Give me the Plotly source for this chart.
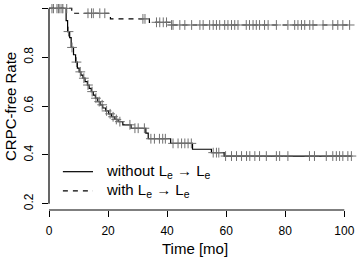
import numpy as np
import plotly.graph_objects as go

# ---- data ----
# group without Le -> Le : KM step times / survival after each step
without_t = [0, 5.8, 6.3, 7.0, 7.5, 8.3, 9.0, 9.6, 10.2, 10.8, 11.5, 12.2, 13.0, 13.6,
             14.3, 15.0, 15.7, 16.5, 17.3, 18.2, 19.2, 20.2, 21.2, 22.3, 23.4, 25.0,
             27.8, 32.8, 33.6, 41.2, 48.6, 55.0, 59.3]
without_s = [1.0, 0.95, 0.905, 0.88, 0.84, 0.81, 0.78, 0.755, 0.74, 0.727, 0.714, 0.70,
             0.686, 0.672, 0.659, 0.645, 0.632, 0.618, 0.605, 0.592, 0.58, 0.568, 0.556,
             0.545, 0.536, 0.523, 0.509, 0.489, 0.466, 0.447, 0.423, 0.409, 0.395]
without_end = 102.4
without_cens = [1.5, 3.2, 4.4, 6.6, 7.8, 9.3, 10.6, 11.8, 13.2, 14.6, 15.9, 17.0, 18.0,
                19.5, 20.7, 21.7, 22.8, 24.0, 27.4, 29.1, 30.2, 32.3, 34.5, 35.7, 37.4,
                38.5, 39.4, 42.0, 43.7, 44.9, 46.0, 47.1, 48.2, 55.6, 56.7, 57.5, 59.8,
                61.8, 63.5, 65.2, 66.9, 68.0, 69.7, 71.3, 73.6, 77.0, 78.1, 80.9, 88.2,
                89.9, 93.9, 96.1, 97.3, 98.4, 99.5, 101.2, 102.4]

# group with Le -> Le
with_t = [0, 7.7, 20.8, 34.0, 41.0]
with_s = [1.0, 0.98, 0.957, 0.943, 0.932]
with_end = 101.8
with_cens = [1.0, 2.7, 3.7, 4.7, 6.0, 13.2, 14.4, 15.0, 17.2, 18.9, 31.8, 32.5, 36.4,
             37.5, 38.7, 39.8, 41.5, 42.0, 44.3, 46.0, 48.3, 51.1, 52.2, 54.4, 55.6,
             56.7, 57.8, 59.5, 60.6, 61.8, 62.9, 64.0, 66.8, 67.9, 69.1, 70.2, 71.3,
             73.0, 74.2, 77.0, 80.9, 83.2, 84.3, 85.5, 86.6, 88.3, 89.4, 92.8, 96.1,
             97.8, 99.5, 101.8]

x_ticks = [0, 20, 40, 60, 80, 100]
y_ticks = [0.2, 0.4, 0.6, 0.8, 1.0]
y_tick_text = ["0.2", "0.4", "0.6", "0.8", "1.0"]
labels = ["without L<sub>e</sub> \u2192 L<sub>e</sub>", "with L<sub>e</sub> \u2192 L<sub>e</sub>"]

FONT = "Liberation Sans, Arial, sans-serif"


def step_value(ts, ss, x):
    idx = np.searchsorted(np.array(ts), np.array(x), side="right") - 1
    return np.array(ss)[idx]


fig = go.Figure()
for ts, ss, end, cens, dash in [(without_t, without_s, without_end, without_cens, "solid"),
                                (with_t, with_s, with_end, with_cens, "5px,5px")]:
    xs = list(ts) + [end]
    ys = list(ss) + [ss[-1]]
    fig.add_trace(go.Scatter(x=xs, y=ys, mode="lines", line_shape="hv",
                             line=dict(color="black", width=1.2, dash=dash),
                             hoverinfo="skip", showlegend=False))
    fig.add_trace(go.Scatter(x=cens, y=step_value(ts, ss, cens), mode="markers",
                             marker=dict(symbol="cross-thin", size=7,
                                         line=dict(color="#707070", width=1)),
                             hoverinfo="skip", showlegend=False))

# R-style detached axis lines
fig.add_shape(type="line", xref="x", yref="paper", x0=x_ticks[0], x1=x_ticks[-1], y0=0, y1=0,
              line=dict(color="black", width=1.2))
fig.add_shape(type="line", xref="paper", yref="y", x0=0, x1=0, y0=y_ticks[0], y1=y_ticks[-1],
              line=dict(color="black", width=1.2))

# legend (manual, R style)
leg_y = [0.331, 0.252]
for i, (lab, dash) in enumerate(zip(labels, ["solid", "5px,5px"])):
    fig.add_shape(type="line", xref="x", yref="y", x0=4.7, x1=14.9, y0=leg_y[i], y1=leg_y[i],
                  line=dict(color="black", width=1.2, dash=dash))
    fig.add_annotation(x=18.6, y=leg_y[i], xref="x", yref="y", text=lab, showarrow=False,
                       xanchor="left", yanchor="middle",
                       font=dict(family=FONT, size=15, color="black"))

# axis titles
fig.add_annotation(x=0.474, y=0, xref="paper", yref="paper", yshift=-38, text="Time [mo]",
                   showarrow=False, xanchor="center", yanchor="middle",
                   font=dict(family=FONT, size=15, color="black"))
fig.add_annotation(x=0, y=0.5, xref="paper", yref="paper", xshift=-39, text="CRPC-free Rate",
                   textangle=-90, showarrow=False, xanchor="center", yanchor="middle",
                   font=dict(family=FONT, size=15, color="black"))

fig.update_layout(
    width=357, height=260,
    margin=dict(l=49, r=0, t=4, b=50, autoexpand=False),
    paper_bgcolor="white", plot_bgcolor="white",
    font=dict(family=FONT, size=12, color="black"),
)
fig.update_xaxes(range=[0, 104.3], tickvals=x_ticks, ticks="outside", ticklen=6,
                 tickwidth=1.2, tickcolor="black", showgrid=False, zeroline=False,
                 showline=False, ticklabelstandoff=4, tickfont=dict(size=12),
                 automargin=False)
fig.update_yaxes(range=[0.174, 1.018], tickvals=y_ticks, ticktext=y_tick_text,
                 ticks="outside", ticklen=6, tickwidth=1.2, tickcolor="black",
                 showgrid=False, zeroline=False, showline=False, tickangle=-90,
                 ticklabelstandoff=4, tickfont=dict(size=12), automargin=False)

fig.write_html("out.html", config={"displayModeBar": False},
               post_script="document.body.style.margin='0';document.body.style.padding='0';")
